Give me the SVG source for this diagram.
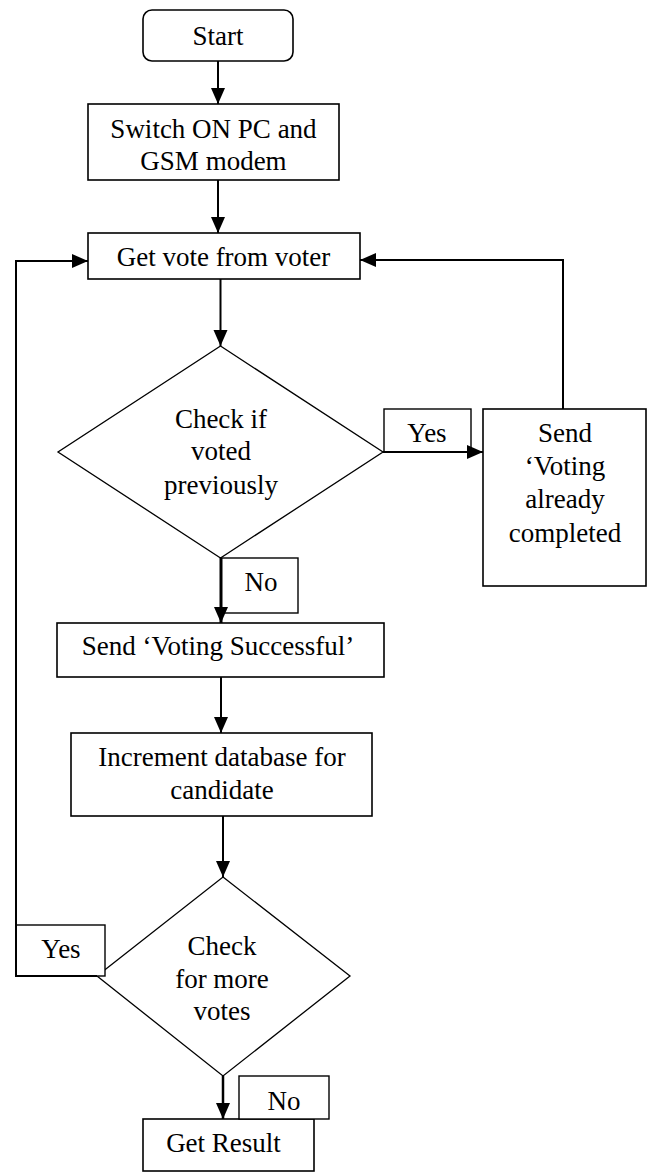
<svg xmlns="http://www.w3.org/2000/svg" width="652" height="1172" viewBox="0 0 652 1172">
<defs>
<marker id="arr" markerUnits="userSpaceOnUse" markerWidth="16" markerHeight="16" viewBox="0 0 16 16" refX="16" refY="8" orient="auto">
<path d="M0,1 L16,8 L0,15 Z" fill="#000"/>
</marker>
</defs>
<rect width="652" height="1172" fill="#fff"/>

<g id="nodes" fill="#fff" stroke="#000" stroke-width="1.6">
<g id="start">
<rect x="143" y="10" width="150" height="51" rx="9"/>
</g>
<g id="switch">
<rect x="88" y="104" width="251" height="76"/>
</g>
<g id="getvote">
<rect x="88" y="233" width="272" height="46"/>
</g>
<g id="check1">
<polygon stroke-width="1.3" points="220.5,346 383,452 220.5,558 58,452"/>
</g>
<g id="already">
<rect x="483" y="409" width="163" height="177"/>
</g>
<g id="success">
<rect x="57" y="623" width="327" height="54"/>
</g>
<g id="increment">
<rect x="71" y="733" width="301" height="83"/>
</g>
<g id="check2">
<polygon stroke-width="1.3" points="223,877 350,976 223,1076 97,976"/>
</g>
<g id="result">
<rect x="143" y="1119" width="171" height="52"/>
</g>
<g id="yes1"><rect stroke-width="1.4" x="384" y="409" width="87" height="43"/></g>
<g id="no1"><rect stroke-width="1.4" x="221" y="558" width="77" height="55"/></g>
<g id="yes2"><rect stroke-width="1.4" x="16" y="925" width="89" height="51"/></g>
<g id="no2"><rect stroke-width="1.4" x="239" y="1076" width="90" height="43"/></g>
</g>

<g id="connectors" fill="none" stroke="#000" stroke-width="2">
<path d="M218,61 V104" marker-end="url(#arr)"/>
<path d="M218,180 V233" marker-end="url(#arr)"/>
<path d="M220.5,279 V346" marker-end="url(#arr)"/>
<path d="M383,452 H483" marker-end="url(#arr)"/>
<path d="M563,409 V260 H360" marker-end="url(#arr)"/>
<path stroke-width="3" d="M221,558 V623" marker-end="url(#arr)"/>
<path d="M221,677 V733" marker-end="url(#arr)"/>
<path d="M223,816 V877" marker-end="url(#arr)"/>
<path stroke-width="2.5" d="M223,1076 V1119" marker-end="url(#arr)"/>
<path d="M97,976 H16 V261 H88" marker-end="url(#arr)"/>
</g>

<g id="texts" font-family="Liberation Serif" font-size="27" text-anchor="middle" fill="#000">
<text x="218" y="45">Start</text>
<text x="213.5" y="138">Switch ON PC and</text>
<text x="213.5" y="170">GSM modem</text>
<text x="223.5" y="266">Get vote from voter</text>
<text x="221" y="428">Check if</text>
<text x="221" y="460">voted</text>
<text x="221" y="494">previously</text>
<text x="565" y="442">Send</text>
<text x="565" y="475">‘Voting</text>
<text x="565" y="508">already</text>
<text x="565" y="542">completed</text>
<text x="218" y="655">Send ‘Voting Successful’</text>
<text x="222" y="766">Increment database for</text>
<text x="222" y="799">candidate</text>
<text x="222" y="955">Check</text>
<text x="222" y="988">for more</text>
<text x="222" y="1020">votes</text>
<text x="223.5" y="1152">Get Result</text>
<text x="427" y="442">Yes</text>
<text x="261" y="591">No</text>
<text x="61" y="958">Yes</text>
<text x="284" y="1110">No</text>
</g>
</svg>
